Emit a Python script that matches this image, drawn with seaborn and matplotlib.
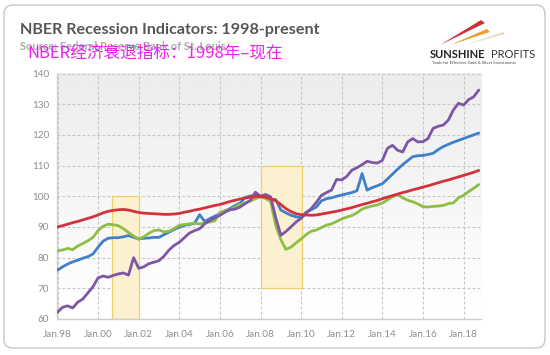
import numpy as np
import pandas as pd
import matplotlib
matplotlib.use("Agg")
import matplotlib.pyplot as plt
from matplotlib.patches import FancyBboxPatch, Polygon
import seaborn as sns

# quarterly readings, index Jan 2008 = 100
dates = pd.date_range("1998-01-01", "2018-10-01", freq="QS")

employment = [
    90.0, 90.4, 90.9, 91.4, 91.8, 92.3, 92.8, 93.3, 93.9, 94.6, 95.1, 95.4,
    95.6, 95.7, 95.5, 95.1, 94.7, 94.5, 94.4, 94.3, 94.2, 94.1, 94.1, 94.2,
    94.4, 94.8, 95.1, 95.5, 95.8, 96.2, 96.6, 97.0, 97.3, 97.8, 98.3, 98.7,
    99.1, 99.4, 99.7, 99.9, 100.0, 99.7, 99.2, 98.5, 97.3, 96.0, 95.0, 94.3,
    94.0, 93.9, 93.8, 93.9, 94.2, 94.5, 94.8, 95.1, 95.5, 95.9, 96.3, 96.8,
    97.3, 97.7, 98.2, 98.6, 99.2, 99.7, 100.2, 100.7, 101.2, 101.6, 102.1, 102.5,
    103.0, 103.4, 103.9, 104.4, 104.9, 105.3, 105.8, 106.3, 106.8, 107.3, 107.8, 108.4,
]
industrial = [
    82.2, 82.5, 83.0, 82.6, 83.8, 84.6, 85.5, 86.6, 88.8, 90.2, 90.9, 90.7,
    90.4, 89.4, 88.2, 87.0, 86.0, 86.8, 87.9, 88.8, 89.0, 88.4, 88.6, 89.5,
    90.5, 90.8, 91.0, 91.2, 91.0, 91.3, 91.6, 92.0, 94.8, 95.3, 95.6, 96.5,
    97.4, 97.8, 98.4, 99.2, 99.8, 99.3, 98.3, 90.5, 85.8, 82.7, 83.4, 84.8,
    86.1, 87.5, 88.6, 89.0, 89.8, 90.6, 91.0, 91.8, 92.6, 93.2, 93.7, 94.6,
    95.8, 96.4, 96.8, 97.2, 97.8, 98.8, 99.8, 100.5, 99.5, 98.7, 98.2, 97.5,
    96.6, 96.5, 96.7, 96.8, 97.0, 97.6, 97.8, 99.5, 100.3, 101.5, 102.6, 103.8,
]
income = [
    75.9, 77.0, 77.9, 78.6, 79.2, 79.8, 80.3, 81.2, 83.4, 85.4, 86.3, 86.5,
    86.5, 86.8, 87.2, 86.6, 86.1, 86.3, 86.4, 86.6, 86.6, 87.5, 88.3, 89.2,
    89.9, 90.5, 90.8, 91.2, 94.0, 91.8, 92.7, 93.5, 94.3, 95.2, 96.0, 97.0,
    97.8, 99.6, 100.1, 100.3, 99.8, 99.5, 99.1, 98.9, 95.5, 94.6, 93.8, 93.3,
    93.0, 94.8, 95.6, 96.5, 98.5, 99.2, 99.5, 100.0, 100.4, 100.8, 101.2, 101.8,
    107.4, 102.0, 102.8, 103.4, 104.1, 105.6, 107.2, 108.8, 110.3, 111.6, 112.9, 113.2,
    113.3, 113.6, 114.0, 115.2, 116.2, 116.9, 117.6, 118.2, 118.8, 119.4, 120.0, 120.6,
]
sales = [
    62.2, 63.8, 64.3, 63.6, 65.5, 66.5, 68.5, 70.5, 73.4, 74.0, 73.6, 74.2,
    74.7, 75.0, 74.3, 80.0, 76.5, 77.0, 78.0, 78.5, 79.0, 80.5, 82.5, 84.0,
    85.0, 86.5, 88.0, 88.8, 89.4, 91.0, 92.1, 93.0, 93.8, 94.8, 95.6, 95.8,
    96.5, 97.6, 98.7, 101.3, 100.0, 100.6, 99.8, 93.0, 87.3, 88.5, 90.0, 91.6,
    92.8, 94.5, 96.0, 98.0, 100.3, 101.2, 102.0, 105.5, 105.3, 106.5, 108.5, 109.3,
    110.3, 111.4, 111.0, 110.8, 111.7, 115.6, 116.6, 115.0, 114.4, 117.7, 118.8, 117.7,
    117.8, 118.8, 122.1, 122.8, 123.2, 124.8, 128.1, 130.3, 129.7, 131.5, 132.4, 134.6,
]

series_order = ["income", "industrial", "sales", "employment"]
palette = {
    "income": "#3f80c8",
    "industrial": "#8dbe45",
    "sales": "#7d57a5",
    "employment": "#d3323d",
}

# shaded recession boxes: start, end, bottom, top
rec_start = ["2000-09-15", "2008-01-01"]
rec_end = ["2002-01-01", "2010-01-20"]
rec_low = [60, 70]
rec_high = [100, 110]

tick_years = list(range(1998, 2019, 2))
tick_labels = ["Jan.%02d" % (y % 100) for y in tick_years]
y_ticks = [60, 70, 80, 90, 100, 110, 120, 130, 140]

df = pd.DataFrame({
    "date": dates,
    "employment": employment,
    "industrial": industrial,
    "income": income,
    "sales": sales,
})
long_df = df.melt(id_vars="date", var_name="series", value_name="value")

sns.set_theme(style="white")
plt.rcParams["font.family"] = ["Lato", "DejaVu Sans"]

W, H = 550, 355
fig = plt.figure(figsize=(W / 100, H / 100), dpi=100)

# background layer in pixel coordinates
bg = fig.add_axes([0, 0, 1, 1], zorder=0)
bg.set_xlim(0, W)
bg.set_ylim(H, 0)
bg.axis("off")
frame = FancyBboxPatch((4, 5), 541, 343, boxstyle="round,pad=0,rounding_size=9",
                       facecolor="white", edgecolor="#cfcfcf", linewidth=1.2)
bg.add_patch(frame)

px_left, px_right, px_top, px_bottom = 57.5, 481, 73.5, 319
grad = np.linspace(0.925, 1.0, 200).reshape(-1, 1)
bg.imshow(grad, extent=[px_left, px_right, px_bottom, px_top], aspect="auto",
          cmap="gray", vmin=0, vmax=1, zorder=1)

bg.text(20, 34, "NBER Recession Indicators: 1998-present", fontsize=11.6,
        fontweight="bold", color="#565656", va="baseline")
bg.text(20, 50, "Source: Federal Reserve Bank of St. Louis", fontsize=8,
        fontweight="bold", color="#a8a8a8", va="baseline")
bg.text(27, 58, "NBER经济衰退指标：1998年–现在", fontsize=12, color="#ee22ee",
        va="baseline", family=["Noto Sans CJK SC", "DejaVu Sans"])

# logo
bg.add_patch(Polygon([[440, 45], [481, 20], [485, 23]], closed=True, color="#c8303a", lw=0))
bg.add_patch(Polygon([[450, 45], [487, 29], [490, 32]], closed=True, color="#e8a030", lw=0))
bg.add_patch(Polygon([[465, 45], [503, 32], [505, 34]], closed=True, color="#e6dcc0", lw=0))
bg.text(430, 58, "SUNSHINE", fontsize=8, fontweight="bold", color="#222222", va="baseline")
bg.text(491, 58, "PROFITS", fontsize=8, color="#333333", va="baseline")
bg.text(432, 64.5, "Tools for Effective Gold & Silver Investments", fontsize=3.1,
        color="#444444", va="baseline")

ax = fig.add_axes([px_left / W, 1 - px_bottom / H, (px_right - px_left) / W,
                   (px_bottom - px_top) / H], zorder=1)
ax.set_facecolor("none")

for s, e, lo, hi in zip(rec_start, rec_end, rec_low, rec_high):
    ax.fill_between([pd.Timestamp(s), pd.Timestamp(e)], lo, hi, facecolor="#fbf0cf",
                    edgecolor="#f0cf6e", linewidth=0.9, zorder=1)

sns.lineplot(data=long_df, x="date", y="value", hue="series", hue_order=series_order,
             palette=palette, linewidth=2.0, legend=False, ax=ax, zorder=3)

ax.set_xlim(pd.Timestamp("1998-01-01"), pd.Timestamp("2018-11-10"))
ax.set_ylim(60, 140)
ax.set_xticks([pd.Timestamp(f"{y}-01-01") for y in tick_years])
ax.set_xticklabels(tick_labels)
ax.set_yticks(y_ticks)
ax.grid(True, linestyle=(0, (2.5, 2)), color="#c4c4c4", linewidth=0.8)
ax.set_axisbelow(True)
ax.tick_params(axis="both", length=0, labelsize=7.2, labelcolor="#8f8f8f")
ax.tick_params(axis="x", pad=8)
ax.tick_params(axis="y", pad=6)
ax.set_xlabel("")
ax.set_ylabel("")
for side in ["top", "right"]:
    ax.spines[side].set_visible(False)
for side in ["left", "bottom"]:
    ax.spines[side].set_color("#cfcfcf")
    ax.spines[side].set_linewidth(1.0)

fig.savefig("out.png", dpi=100)
